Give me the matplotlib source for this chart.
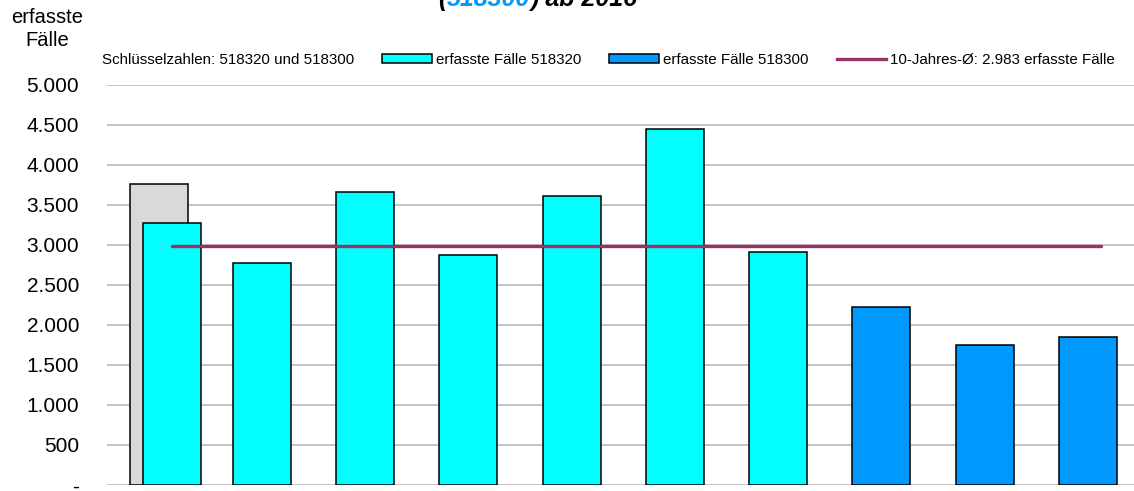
import numpy as np
import matplotlib
matplotlib.use("Agg")
import matplotlib.pyplot as plt
from matplotlib.patches import Patch
from matplotlib.lines import Line2D
from matplotlib.ticker import FuncFormatter

plt.rcParams['font.family'] = ['Liberation Sans', 'DejaVu Sans']

# ---- data -------------------------------------------------------------
earlier_cases = [3756]                                   # grey comparison bar, first slot
cases_518320 = [3276, 2777, 3664, 2873, 3614, 4447, 2914]
cases_518300 = [2227, 1749, 1845]
ten_year_avg = 2983

legend_labels = [
    "Schlüsselzahlen: 518320 und 518300",
    "erfasste Fälle 518320",
    "erfasste Fälle 518300",
    "10-Jahres-Ø: 2.983 erfasste Fälle",
]
y_title_lines = ["erfasste", "Fälle"]
y_ticks = [0, 500, 1000, 1500, 2000, 2500, 3000, 3500, 4000, 4500, 5000]

# ---- styling ----------------------------------------------------------
C_GREY = "#D9D9D9"
C_CYAN = "#00FFFF"
C_BLUE = "#0099FF"
C_AVG = "#993366"
C_GRID = "#C0C0C0"
BAR_W = 0.56
SHIFT = 0.126      # the 518320 series sits slightly right of the grey bar

W, H = 1134, 491
fig = plt.figure(figsize=(W / 100, H / 100), dpi=100)
ax = fig.add_axes([107 / W, 6 / H, 1032.5 / W, 400.3 / H])

n_cyan = len(cases_518320)
n_total = n_cyan + len(cases_518300)

grey_x = np.arange(len(earlier_cases), dtype=float)
cyan_x = np.arange(n_cyan, dtype=float)
cyan_x[0] += SHIFT
blue_x = np.arange(n_cyan, n_total, dtype=float)

edge = dict(edgecolor="black", linewidth=1.1)
ax.bar(grey_x, earlier_cases, width=BAR_W, color=C_GREY, zorder=2, **edge)
ax.bar(cyan_x, cases_518320, width=BAR_W, color=C_CYAN, zorder=3, **edge)
ax.bar(blue_x, cases_518300, width=BAR_W, color=C_BLUE, zorder=3, **edge)
ax.plot([SHIFT, n_total - 1 + SHIFT], [ten_year_avg, ten_year_avg],
        color=C_AVG, linewidth=2.4, solid_capstyle="round", zorder=4)

ax.set_xlim(-0.5, n_total - 0.5)
ax.set_ylim(0, 5000)
ax.set_xticks([])
ax.set_yticks(y_ticks)
ax.yaxis.set_major_formatter(FuncFormatter(
    lambda v, _: "-" if v == 0 else f"{int(v):,}".replace(",", ".")))
ax.tick_params(axis="y", length=0, pad=20, labelsize=15)
ax.grid(axis="y", color=C_GRID, linewidth=1.3, zorder=0)
ax.set_axisbelow(True)
for s in ax.spines.values():
    s.set_visible(False)

# axis title, two centred lines
fig.text(47.5 / W, 1 - 23 / H, y_title_lines[0], ha="center", va="baseline", fontsize=14.5)
fig.text(47.5 / W, 1 - 46 / H, y_title_lines[1], ha="center", va="baseline", fontsize=14.5)

# legend row
handles = [
    Patch(facecolor="none", edgecolor="none"),
    Patch(facecolor=C_CYAN, edgecolor="black", linewidth=1.1),
    Patch(facecolor=C_BLUE, edgecolor="black", linewidth=1.1),
    Line2D([], [], color=C_AVG, linewidth=2.4),
]
fig.legend(handles, legend_labels, loc="center left",
           bbox_to_anchor=(47.7 / W, 1 - 60 / H), ncol=4, frameon=False,
           fontsize=10.9, handlelength=3.3, handleheight=0.53,
           handletextpad=0.26, columnspacing=1.85,
           borderpad=0, borderaxespad=0)

# bottom line of the headline
title_kw = dict(fontsize=18, fontweight="bold", fontstyle="italic", va="baseline")
fig.text(438 / W, 1 - 6 / H, "(", **title_kw)
fig.text(447 / W, 1 - 6 / H, "518300", color=C_BLUE, **title_kw)
fig.text(530 / W, 1 - 6 / H, ") ab 2016", **title_kw)

fig.savefig("out.png", dpi=100)
